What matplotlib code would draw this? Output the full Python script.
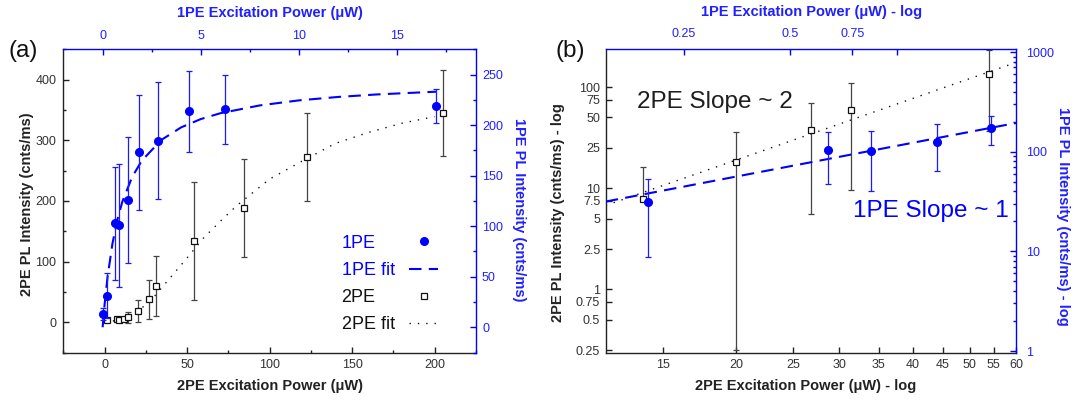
import numpy as np
import matplotlib
matplotlib.use("Agg")
import matplotlib.pyplot as plt
from matplotlib.lines import Line2D
from matplotlib.ticker import MultipleLocator, FixedLocator, FixedFormatter, NullLocator, NullFormatter, LogLocator

plt.rcParams['font.family'] = ['Liberation Sans', 'DejaVu Sans']

# 1PE measurements (top / right axes)
p1_power = [0.03, 0.198, 0.64, 0.845, 1.30, 1.853, 2.8, 4.39, 6.21, 17.0]
p1_pl = [13.5, 31.2, 103.0, 101.0, 126.0, 173.0, 184.5, 213.5, 215.8, 218.8]
p1_err = [6, 22.5, 56, 61, 62, 57, 58, 40, 34, 17]

# 2PE measurements (bottom / left axes)
p2_power = [1.2, 7.3, 9.0, 11.8, 13.9, 20.0, 26.8, 31.4, 54.0, 84.5, 122.9, 205.0]
p2_pl = [2.8, 4.5, 4.0, 5.0, 7.8, 18.1, 37.5, 59.0, 134.0, 188.6, 272.6, 345.6]
p2_err = [2, 2, 2, 3, 8.5, 17.85, 32, 49.5, 97, 81, 73, 71]

# fit curves
fit1_power = [0, 0.1, 0.25, 0.5, 0.75, 1.0, 1.5, 2, 3, 4, 5, 6, 8, 10, 12, 14, 17]
fit1_pl = [0, 22.6, 49.7, 82.8, 106.3, 124.0, 148.6, 165.0, 185.5, 197.8, 206.0,
           211.8, 219.5, 224.5, 227.9, 230.4, 233.1]
fit2_power = [0, 10, 20, 30, 40, 50, 60, 70, 80, 90, 100, 120, 140, 160, 180, 200]
fit2_pl = [0, 4, 17, 42, 74, 106, 139, 166, 192, 214, 236, 266, 295, 313, 328, 339]

# power-law fits of panel (b)
logfit1_power = [0.15, 2.18]
logfit1_pl = [31.6, 194]
logfit2_power = [12, 60]
logfit2_pl = [6.74, 175]

# tick values for the log panel
b_bottom_ticks = [15, 20, 25, 30, 35, 40, 45, 50, 55, 60]
b_left_ticks = [0.25, 0.5, 0.75, 1, 2.5, 5, 7.5, 10, 25, 50, 75, 100]
b_left_labels = ['0.25', '0.5', '0.75', '1', '2.5', '5', '7.5', '10', '25', '50', '75', '100']
b_top_ticks = [0.25, 0.5, 0.75, 1]
b_top_labels = ['0.25', '0.5', '0.75', '']
b_right_ticks = [1, 10, 100, 1000]
b_right_labels = ['1', '10', '100', '1000']

BLUE = '#0000ff'
BLUE_TXT = '#2020ff'
DARK = '#222222'
GREY = '#444444'


def make_pair(rect, name):
    ax = fig.add_axes(rect, label=name)
    ax2 = fig.add_axes(rect, label=name + '_twin')
    ax2.patch.set_visible(False)
    ax2.xaxis.tick_top()
    ax2.xaxis.set_label_position('top')
    ax2.yaxis.tick_right()
    ax2.yaxis.set_label_position('right')
    ax.spines[['top', 'right']].set_visible(False)
    ax2.spines[['bottom', 'left']].set_visible(False)
    for s in ['left', 'bottom']:
        ax.spines[s].set_color(DARK)
        ax.spines[s].set_linewidth(1.0)
    for s in ['top', 'right']:
        ax2.spines[s].set_color(BLUE)
        ax2.spines[s].set_linewidth(1.0)
    ax.tick_params(which='both', direction='in', top=False, right=False,
                   color=DARK, labelcolor='#333333', labelsize=9, width=1.0)
    ax.tick_params(which='major', length=4)
    ax.tick_params(which='minor', length=2.5)
    ax2.tick_params(which='both', direction='in', bottom=False, left=False,
                    top=True, right=True, labelbottom=False, labelleft=False,
                    labeltop=True, labelright=True,
                    color=BLUE, labelcolor=BLUE_TXT, labelsize=9, width=1.0)
    ax2.tick_params(which='major', length=4)
    ax2.tick_params(which='minor', length=2.5)
    return ax, ax2


fig = plt.figure(figsize=(10.83, 4.05), dpi=100)
lab = dict(fontsize=10.5, fontweight='bold', va='center', ha='center')

# ---------------- panel (a) ----------------
ax, ax2 = make_pair([0.0585, 0.1296, 0.3808, 0.7486], 'a')

c2 = ax.errorbar(p2_power, p2_pl, yerr=p2_err, fmt='s', ms=5, mfc='white', mec='#111111',
                 mew=0.9, ecolor=GREY, elinewidth=0.9, capsize=2.4, capthick=0.9, zorder=3)
f2, = ax.plot(fit2_power, fit2_pl, color='#111111', lw=1.0, linestyle=(0, (1, 5)))
ax.set_xlim(-25, 225)
ax.set_ylim(-50, 450)
ax.xaxis.set_major_locator(MultipleLocator(50))
ax.xaxis.set_minor_locator(MultipleLocator(25))
ax.yaxis.set_major_locator(MultipleLocator(100))
ax.yaxis.set_minor_locator(MultipleLocator(50))
ax.tick_params(axis='x', pad=5)
ax.tick_params(axis='y', pad=5)
ax.set_xlabel('2PE Excitation Power (\u03bcW)', color=DARK, **lab)
ax.set_ylabel('2PE PL Intensity (cnts/ms)', color=DARK, **lab)
ax.xaxis.set_label_coords(0.5, -0.11)
ax.yaxis.set_label_coords(-0.087, 0.49)

c1 = ax2.errorbar(p1_power, p1_pl, yerr=p1_err, fmt='o', ms=5.5, color=BLUE,
                  ecolor='#1a1aff', elinewidth=0.9, capsize=2.4, capthick=0.9, zorder=3)
f1, = ax2.plot(fit1_power, fit1_pl, color=BLUE, lw=1.5, linestyle=(0, (6, 3.5)))
ax2.set_xlim(-2, 19)
ax2.set_ylim(-25, 275)
ax2.xaxis.set_major_locator(MultipleLocator(5))
ax2.xaxis.set_minor_locator(MultipleLocator(2.5))
ax2.yaxis.set_major_locator(MultipleLocator(50))
ax2.yaxis.set_minor_locator(MultipleLocator(25))
ax2.tick_params(axis='x', pad=5.5)
ax2.tick_params(axis='y', pad=4.5)
ax2.set_xlabel('1PE Excitation Power (\u03bcW)', color=BLUE_TXT, **lab)
ax2.set_ylabel('1PE PL Intensity (cnts/ms)', color=BLUE_TXT, rotation=270, **lab)
ax2.xaxis.set_label_coords(0.5, 1.12)
ax2.yaxis.set_label_coords(1.104, 0.47)

blank = [Line2D([], [], linestyle='none') for _ in range(4)]
leg = ax2.legend(blank + [c1[0], f1, c2[0], f2],
                 ['1PE', '1PE fit', '2PE', '2PE fit', '', '', '', ''],
                 ncols=2, loc='upper left', bbox_to_anchor=(0.587, 0.3885),
                 frameon=False, fontsize=13, handlelength=1.6, handletextpad=0.4,
                 columnspacing=0.81, labelspacing=0.56, borderpad=0, borderaxespad=0)
for i, t in enumerate(leg.get_texts()):
    t.set_color(BLUE if i < 2 else '#111111')

fig.text(0.0074, 0.875, '(a)', fontsize=17.5, va='center', ha='left', color='#111111')

# ---------------- panel (b) ----------------
bx, bx2 = make_pair([0.5593, 0.1296, 0.3789, 0.7486], 'b')

bx.set_xscale('log')
bx.set_yscale('log')
p2_low = np.where(np.array(p2_err) < np.array(p2_pl), p2_err, 0)
bx.errorbar(p2_power, p2_pl, yerr=[p2_low, p2_err], fmt='s', ms=5, mfc='white', mec='#111111',
            mew=0.9, ecolor=GREY, elinewidth=0.9, capsize=2.4, capthick=0.9, zorder=3)
bx.plot(logfit2_power, logfit2_pl, color='#111111', lw=1.0, linestyle=(0, (1, 5)))
bx.set_xlim(12, 60)
bx.set_ylim(0.2367, 236)
bx.xaxis.set_major_locator(FixedLocator(b_bottom_ticks))
bx.xaxis.set_major_formatter(FixedFormatter([str(v) for v in b_bottom_ticks]))
bx.xaxis.set_minor_locator(NullLocator())
bx.yaxis.set_major_locator(FixedLocator(b_left_ticks))
bx.yaxis.set_major_formatter(FixedFormatter(b_left_labels))
bx.yaxis.set_minor_locator(NullLocator())
bx.tick_params(axis='x', pad=5)
bx.tick_params(axis='y', pad=4)
bx.set_xlabel('2PE Excitation Power (\u03bcW) - log', color=DARK, **lab)
bx.set_ylabel('2PE PL Intensity (cnts/ms) - log', color=DARK, **lab)
bx.xaxis.set_label_coords(0.486, -0.11)
bx.yaxis.set_label_coords(-0.1175, 0.46)

bx2.set_xscale('log')
bx2.set_yscale('log')
p1_low = np.where(np.array(p1_err) < np.array(p1_pl), p1_err, 0)
bx2.errorbar(p1_power, p1_pl, yerr=[p1_low, p1_err], fmt='o', ms=5.5, color=BLUE,
             ecolor='#1a1aff', elinewidth=0.9, capsize=2.4, capthick=0.9, zorder=3)
bx2.plot(logfit1_power, logfit1_pl, color=BLUE, lw=1.5, linestyle=(0, (6, 3.5)))
bx2.set_xlim(0.15, 2.18)
bx2.set_ylim(0.966, 1064)
bx2.xaxis.set_major_locator(FixedLocator(b_top_ticks))
bx2.xaxis.set_major_formatter(FixedFormatter(b_top_labels))
bx2.xaxis.set_minor_locator(NullLocator())
bx2.yaxis.set_major_locator(FixedLocator(b_right_ticks))
bx2.yaxis.set_major_formatter(FixedFormatter(b_right_labels))
bx2.yaxis.set_minor_locator(LogLocator(base=10, subs=np.arange(2, 10)))
bx2.yaxis.set_minor_formatter(NullFormatter())
bx2.tick_params(axis='x', pad=7)
bx2.tick_params(axis='y', pad=7)
bx2.set_xlabel('1PE Excitation Power (\u03bcW) - log', color=BLUE_TXT, **lab)
bx2.set_ylabel('1PE PL Intensity (cnts/ms) - log', color=BLUE_TXT, rotation=270, **lab)
bx2.xaxis.set_label_coords(0.502, 1.124)
bx2.yaxis.set_label_coords(1.1146, 0.45)

bx.text(0.0756, 0.827, '2PE Slope ~ 2', transform=bx.transAxes, fontsize=17.5,
        color='#1e1e1e', va='center', ha='left')
bx.text(0.6035, 0.467, '1PE Slope ~ 1', transform=bx.transAxes, fontsize=17.5,
        color=BLUE, va='center', ha='left', zorder=5)

fig.text(0.5132, 0.875, '(b)', fontsize=17.5, va='center', ha='left', color='#111111')

fig.savefig('out.png', dpi=100)
